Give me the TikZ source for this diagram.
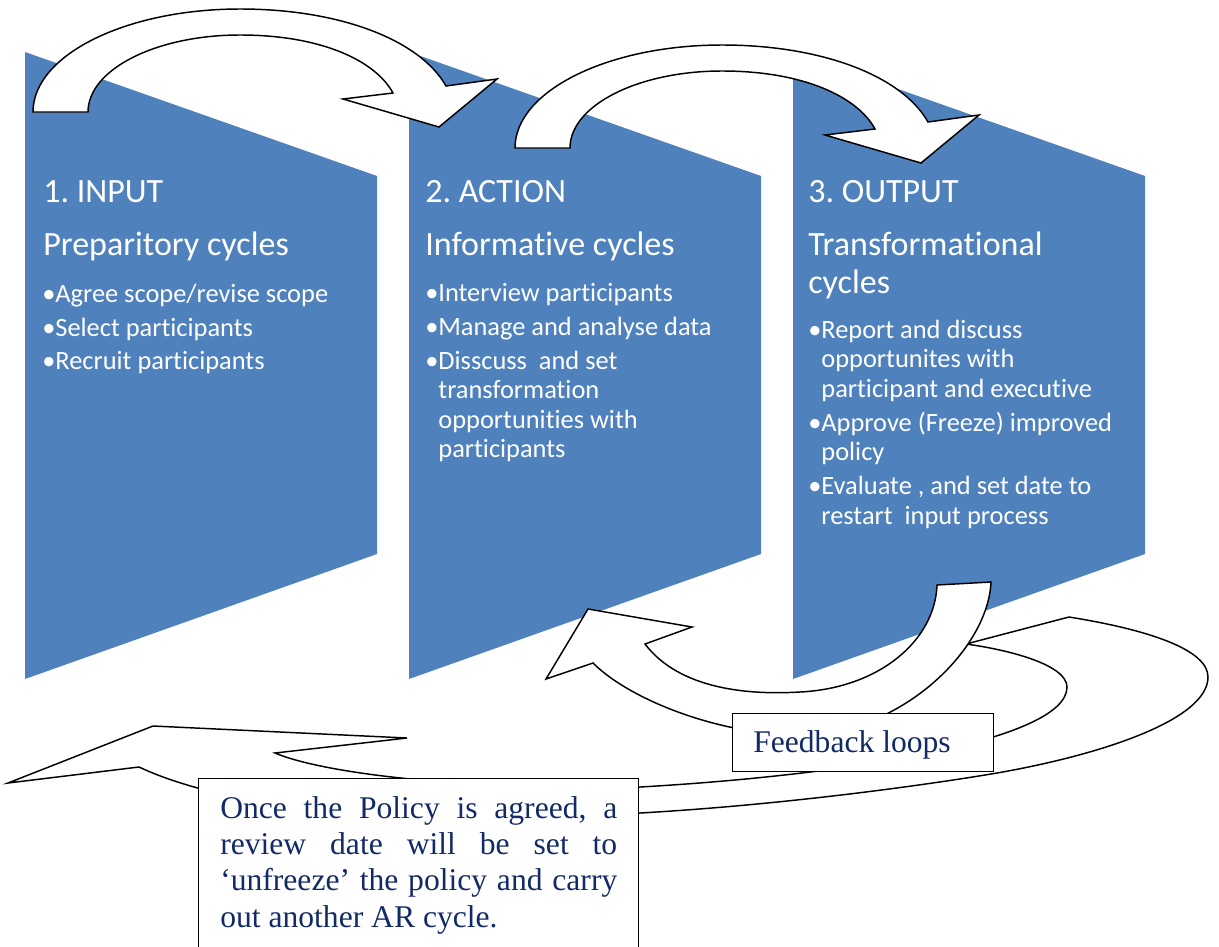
\documentclass[tikz,border=0pt]{standalone}
\usepackage{fontspec}
\setmainfont{Liberation Serif}
\newfontfamily\calib[Ligatures=NoCommon]{Carlito}
\newfontfamily\tnr{Liberation Serif}
\definecolor{shapeblue}{HTML}{4F81BD}
\definecolor{navytext}{RGB}{18,42,102}
\frenchspacing
\begin{document}
\begin{tikzpicture}[x=0.75pt,y=-0.75pt,
  stageshape/.style={fill=shapeblue, draw=none},
  blockarrow/.style={draw=black, fill=white, line width=1.1pt, line join=miter},
  ttl/.style={font=\calib\fontsize{25.5}{30}\selectfont, text=white, anchor=base west, inner sep=0pt},
  bul/.style={font=\calib\fontsize{19.8}{24}\selectfont, text=white, anchor=base west, inner sep=0pt},
  notebox/.style={draw=black, fill=white, line width=1.1pt, inner sep=0pt},
  notetext/.style={font=\tnr\fontsize{23.7}{28}\selectfont, text=navytext, anchor=base west, inner sep=0pt}]
\useasboundingbox (0,0) rectangle (1219,946);
\clip (0,0) rectangle (1219,946);

% stage shapes
\foreach \xo in {25,409,793}{
  \path[stageshape] (\xo,52) -- (\xo+352,176) -- (\xo+352,554) -- (\xo,679) -- cycle;
}

% top curved arrows
\draw[blockarrow] (33,112) .. controls (33,55) and (126,9) .. (240,9)
  .. controls (340,9) and (420,40) .. (446,86) -- (497,79) -- (439,127) -- (343,99) -- (393,93)
  .. controls (375,60) and (320,35) .. (240,35) .. controls (156,35) and (88,69.5) .. (88,112) -- cycle;
\begin{scope}[shift={(482,36)}]
\draw[blockarrow] (33,112) .. controls (33,55) and (126,9) .. (240,9)
  .. controls (340,9) and (420,40) .. (446,86) -- (497,79) -- (439,127) -- (343,99) -- (393,93)
  .. controls (375,60) and (320,35) .. (240,35) .. controls (156,35) and (88,69.5) .. (88,112) -- cycle;
\end{scope}

% stage 1 text
\node[ttl] (t1a) at (43,202) {1. INPUT};
\node[ttl] (t1b) at (43,255) {Preparitory cycles};
\node[bul] (t1c) at (42,302) {•Agree scope/revise scope};
\node[bul] (t1d) at (42,336) {•Select participants};
\node[bul] (t1e) at (42,369) {•Recruit participants};

% stage 2 text
\node[ttl] (t2a) at (425,202) {2. ACTION};
\node[ttl] (t2b) at (425,255) {Informative cycles};
\node[bul] (t2c) at (425,301) {•Interview participants};
\node[bul] (t2d) at (425,335) {•Manage and analyse data};
\node[bul] (t2e) at (425,369) {•Disscuss\ \ and set};
\node[bul] (t2f) at (425,398.5) {\phantom{•}transformation};
\node[bul] (t2g) at (425,428) {\phantom{•}opportunities with};
\node[bul] (t2h) at (425,457.5) {\phantom{•}participants};

% stage 3 text
\node[ttl] (t3a) at (808,202) {3. OUTPUT};
\node[ttl] (t3b) at (808,255) {Transformational};
\node[ttl] (t3c) at (808,293) {cycles};
\node[bul] (t3d) at (808,338) {•Report and discuss};
\node[bul] (t3e) at (808,367.5) {\phantom{•}opportunites with};
\node[bul] (t3f) at (808,397) {\phantom{•}participant and executive};
\node[bul] (t3g) at (808,431) {•Approve (Freeze) improved};
\node[bul] (t3h) at (808,460.5) {\phantom{•}policy};
\node[bul] (t3i) at (808,494.5) {•Evaluate , and set date to};
\node[bul] (t3j) at (808,524) {\phantom{•}restart\ \ input process};

% big loop arrow
\draw[blockarrow] (966,644) -- (1069,617) .. controls (1150,630) and (1208,650) .. (1208,677)
  .. controls (1208,720) and (1100,755) .. (997,773)
  .. controls (920,786) and (780,805) .. (640,813)
  .. controls (420,830) and (230,810) .. (139,767)
  -- (8,783) -- (153,726) -- (407,738) -- (275,753)
  .. controls (320,772) and (450,790) .. (640,787)
  .. controls (850,775) and (1067,740) .. (1067,687)
  .. controls (1067,665) and (1010,650) .. (966,644) -- cycle;

% feedback arrow
\draw[blockarrow] (937,585) -- (991,582) .. controls (988,650) and (900,735) .. (800,735)
  .. controls (720,735) and (630,700) .. (593,663) -- (546,679) -- (588,609) -- (692,627) -- (645,644)
  .. controls (680,690) and (750,695) .. (800,692)
  .. controls (880,688) and (935,640) .. (937,585) -- cycle;

% feedback box
\node[notebox, anchor=north west, minimum width=195.75pt, minimum height=43.5pt] (fb) at (732,713) {};
\node[notetext] (fbt) at (753,752) {Feedback loops};

% policy box
\node[notebox, anchor=north west, minimum width=330pt, minimum height=142.5pt] (pb) at (198,778) {};
\node[notetext] (pb1) at (220,818) {\makebox[297.75pt][s]{Once the Policy is agreed, a}};
\node[notetext] (pb2) at (220,854) {\makebox[297.75pt][s]{review date will be set to}};
\node[notetext] (pb3) at (220,890) {\makebox[297.75pt][s]{‘unfreeze’ the policy and carry}};
\node[notetext] (pb4) at (220,927) {out another AR cycle.};
\end{tikzpicture}
\end{document}
